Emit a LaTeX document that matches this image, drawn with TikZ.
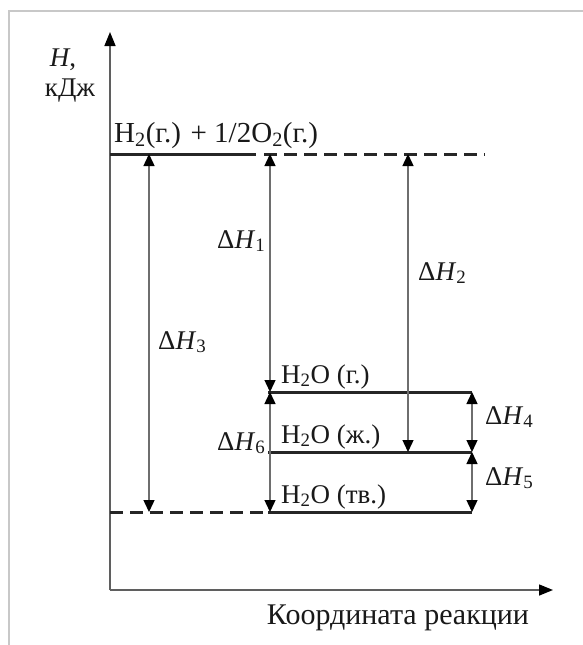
\documentclass[tikz,border=0pt]{standalone}
\usepackage{fontspec}
\setmainfont{Liberation Serif}
\usetikzlibrary{arrows.meta}
\definecolor{framegray}{RGB}{200,200,200}
\definecolor{axisgray}{RGB}{95,95,95}
\definecolor{arrgray}{RGB}{110,110,110}
\tikzset{
  frameline/.style={framegray,line width=2.5pt},
  axisline/.style={axisgray,line width=1.5pt,-{Triangle[width=11pt,length=14pt,color=black]}},
  level/.style={black!85,line width=3pt},
  dashlevel/.style={black!85,line width=3pt,dash pattern=on 13pt off 7pt},
  dharrow/.style={arrgray,line width=1.4pt,{Triangle[width=11pt,length=12pt,color=black]}-{Triangle[width=11pt,length=12pt,color=black]}},
  lbl/.style={font=\fontsize{27}{30}\selectfont,inner sep=0pt,text=black!90},
  dlbl/.style={font=\fontsize{27}{30}\selectfont,inner sep=0pt,text=black!90,anchor=base west}
}
\newcommand{\dH}[1]{Δ\textit{H}\textsubscript{#1}}
\begin{document}
\begin{tikzpicture}[x=1pt,y=-1pt]
\useasboundingbox (0,0) rectangle (583,645);
\fill[white] (0,0) rectangle (583,645);
% frame
\draw[frameline] (9,645) -- (9,11) -- (583,11);
% axes
\coordinate (O) at (110,590);
\coordinate (Ytop) at (110,32);
\coordinate (Xend) at (553,590);
\draw[axisline] (O) -- (Ytop);
\draw[axisline] (O) -- (Xend);
% level coordinates
\coordinate (L0a) at (110,154);
\coordinate (L0b) at (256,154);
\coordinate (L0c) at (485,154);
\coordinate (Lga) at (268,392);
\coordinate (Lgb) at (472,392);
\coordinate (Lla) at (268,452);
\coordinate (Llb) at (472,452);
\coordinate (Lsa) at (268,512);
\coordinate (Lsb) at (472,512);
\coordinate (Lsd) at (110,512);
% levels
\draw[level] (L0a) -- (L0b);
\draw[dashlevel] (L0b) ++(8,0) -- (L0c);
\draw[level] (Lga) -- (Lgb);
\draw[level] (Lla) -- (Llb);
\draw[level] (Lsa) -- (Lsb);
\draw[dashlevel] (Lsd) -- (Lsa);
% arrow endpoints
\coordinate (a3t) at (149,154); \coordinate (a3b) at (149,512);
\coordinate (a1t) at (270,154); \coordinate (a1b) at (270,392);
\coordinate (a6t) at (270,392); \coordinate (a6b) at (270,512);
\coordinate (a2t) at (408,154); \coordinate (a2b) at (408,452);
\coordinate (a4t) at (472,392); \coordinate (a4b) at (472,452);
\coordinate (a5t) at (472,452); \coordinate (a5b) at (472,512);
\draw[dharrow] (a3t) -- (a3b);
\draw[dharrow] (a1t) -- (a1b);
\draw[dharrow] (a6t) -- (a6b);
\draw[dharrow] (a2t) -- (a2b);
\draw[dharrow] (a4t) -- (a4b);
\draw[dharrow] (a5t) -- (a5b);
% labels
\node[lbl,anchor=base] (hax) at (63,66) {\textit{H},};
\node[lbl,anchor=base] (kdj) at (70,96) {кДж};
\node[lbl,anchor=base west,font=\fontsize{29}{32}\selectfont] (top) at (114,142) {H\textsubscript{2}(г.) + 1/2O\textsubscript{2}(г.)};
\node[lbl,anchor=base west] (hg) at (281,383) {H\textsubscript{2}O (г.)};
\node[lbl,anchor=base west] (hl) at (281,443) {H\textsubscript{2}O (ж.)};
\node[lbl,anchor=base west] (hs) at (281,503) {H\textsubscript{2}O (тв.)};
\node[dlbl] (d1) at (217,248) {\dH{1}};
\node[dlbl] (d2) at (418,280) {\dH{2}};
\node[dlbl] (d3) at (158,349) {\dH{3}};
\node[dlbl] (d4) at (485,424) {\dH{4}};
\node[dlbl] (d5) at (485,485) {\dH{5}};
\node[dlbl] (d6) at (217,450) {\dH{6}};
\node[lbl,anchor=base,font=\fontsize{30}{33}\selectfont] (xl) at (398,624) {Координата реакции};
\end{tikzpicture}
\end{document}
